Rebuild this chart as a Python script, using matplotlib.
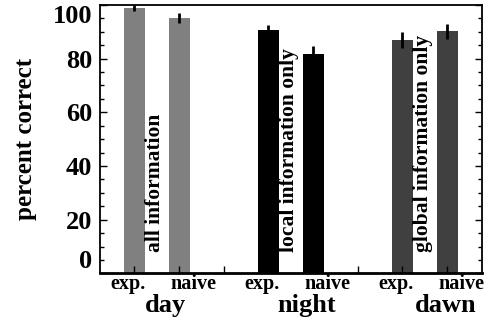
import matplotlib.pyplot as plt
import numpy as np

groups = ['day', 'night', 'dawn']
conditions = ['exp.', 'naive']
notes = ['all information', 'local information only', 'global information only']
means = [[98.9, 95.1], [90.7, 81.7], [86.9, 90.2]]
errors = [[1.1, 1.9], [1.8, 2.8], [3.0, 2.8]]
colors = ['#808080', '#000000', '#404040']

plt.rcParams['font.family'] = ['Liberation Serif', 'DejaVu Serif']
plt.rcParams['font.weight'] = 'bold'

fig = plt.figure(figsize=(4.94, 3.21), dpi=100)
ax = fig.add_axes([0.2024, 0.148, 0.7733, 0.837])

width = 0.47
# px -> data units below the axis (axis is 268.8 px tall for 0..100)
cond_y = -15.5 / 2.688
group_y = -39.0 / 2.688
group_shift = [0.19, 0.36, 0.46]
for g in range(len(groups)):
    pos = np.array([3 * g, 3 * g + 1])
    ax.bar(pos, means[g], width, color=colors[g])
    ax.errorbar(pos, means[g], yerr=errors[g], fmt='none', ecolor='black',
                elinewidth=2, capsize=0)
    ax.text(pos.mean() - 0.03, 8, notes[g], rotation=90, ha='center',
            va='bottom', fontsize=15.5, fontweight='bold')
    ax.text(pos[0] - 0.14, cond_y, conditions[0], ha='center', va='baseline',
            fontsize=14.5, fontweight='bold')
    ax.text(pos[1] + 0.33, cond_y, conditions[1], ha='center', va='baseline',
            fontsize=14.5, fontweight='bold')
    ax.text(pos.mean() + group_shift[g], group_y, groups[g], ha='center',
            va='baseline', fontsize=19, fontweight='bold')

ax.set_xlim(-0.77, 7.78)
ax.set_ylim(0, 100)
ax.set_xticks(range(8))
ax.set_xticklabels([])
ax.tick_params(axis='x', direction='in', length=5, width=1, top=False)

ax.set_yticks(range(0, 101, 20))
ax.set_yticks(range(0, 101, 5), minor=True)
ax.tick_params(axis='y', which='both', direction='in', right=True, width=1)
ax.tick_params(axis='y', which='major', length=5, labelsize=19, pad=5.5)
ax.tick_params(axis='y', which='minor', length=3)
labels = ax.set_yticklabels([str(v) for v in range(0, 101, 20)], fontweight='bold')
labels[0].set_va('bottom')
labels[-1].set_va('top')

ax.set_ylabel('percent correct', fontsize=18, fontweight='bold')
ax.yaxis.set_label_coords(-0.165, 0.5)
for s in ax.spines.values():
    s.set_linewidth(1.3)
ax.spines['bottom'].set_linewidth(2)

fig.savefig('out.png', dpi=100)
